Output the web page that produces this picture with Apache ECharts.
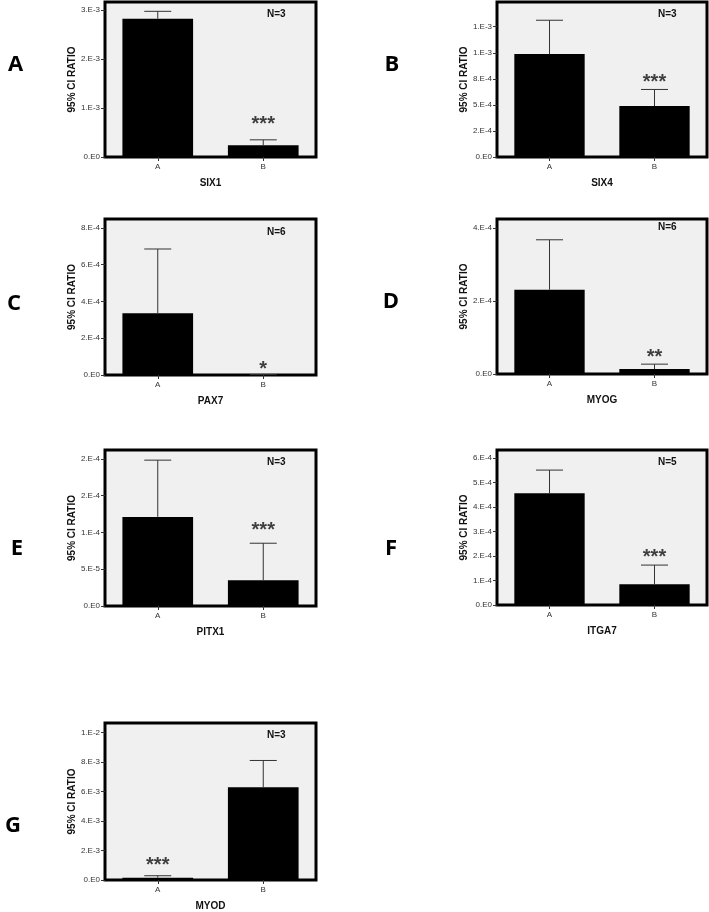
<!DOCTYPE html>
<html><head><meta charset="utf-8">
<script src="https://cdn.jsdelivr.net/npm/echarts@6/dist/echarts.min.js"></script>
<style>html,body{margin:0;padding:0;background:#fff}#c{width:709px;height:912px}</style>
</head><body><div id="c"></div>
<script>
// ---------- DATA ----------
const categories = ['A', 'B'];
const genes = ['SIX1', 'SIX4', 'PAX7', 'MYOG', 'PITX1', 'ITGA7', 'MYOD'];
const panelLetters = ['A', 'B', 'C', 'D', 'E', 'F', 'G'];
const nLabels = ['N=3', 'N=3', 'N=6', 'N=6', 'N=3', 'N=5', 'N=3'];

const meanSIX1 = [2.82e-3, 0.24e-3];   const upperSIX1 = [2.97e-3, 0.35e-3];
const meanSIX4 = [9.87e-4, 4.89e-4];   const upperSIX4 = [1.312e-3, 6.48e-4];
const meanPAX7 = [3.35e-4, 2e-6];      const upperPAX7 = [6.85e-4, 2e-6];
const meanMYOG = [2.31e-4, 1.37e-5];   const upperMYOG = [3.68e-4, 2.7e-5];
const meanPITX1 = [1.211e-4, 3.5e-5];  const upperPITX1 = [1.982e-4, 8.53e-5];
const meanITGA7 = [4.56e-4, 0.845e-4]; const upperITGA7 = [5.51e-4, 1.63e-4];
const meanMYOD = [1.6e-4, 6.29e-3];    const upperMYOD = [2.9e-4, 8.1e-3];

const sigCategory = ['B', 'B', 'B', 'B', 'B', 'B', 'A'];
const sigText = ['***', '***', '*', '**', '***', '***', '***'];

const tickValsSIX1 = [0, 1e-3, 2e-3, 3e-3];
const tickLblsSIX1 = ['0.E0', '1.E-3', '2.E-3', '3.E-3'];
const tickValsSIX4 = [0, 2.5e-4, 5e-4, 7.5e-4, 1e-3, 1.25e-3];
const tickLblsSIX4 = ['0.E0', '2.E-4', '5.E-4', '8.E-4', '1.E-3', '1.E-3'];
const tickValsPAX7 = [0, 2e-4, 4e-4, 6e-4, 8e-4];
const tickLblsPAX7 = ['0.E0', '2.E-4', '4.E-4', '6.E-4', '8.E-4'];
const tickValsMYOG = [0, 2e-4, 4e-4];
const tickLblsMYOG = ['0.E0', '2.E-4', '4.E-4'];
const tickValsPITX1 = [0, 5e-5, 1e-4, 1.5e-4, 2e-4];
const tickLblsPITX1 = ['0.E0', '5.E-5', '1.E-4', '2.E-4', '2.E-4'];
const tickValsITGA7 = [0, 1e-4, 2e-4, 3e-4, 4e-4, 5e-4, 6e-4];
const tickLblsITGA7 = ['0.E0', '1.E-4', '2.E-4', '3.E-4', '4.E-4', '5.E-4', '6.E-4'];
const tickValsMYOD = [0, 2e-3, 4e-3, 6e-3, 8e-3, 1e-2];
const tickLblsMYOD = ['0.E0', '2.E-3', '4.E-3', '6.E-3', '8.E-3', '1.E-2'];

const axisMax = [3.16e-3, 1.487e-3, 8.48e-4, 4.25e-4, 2.12e-4, 6.33e-4, 1.064e-2];

// ---------- LAYOUT ----------
const panels = [
  {mean: meanSIX1, upper: upperSIX1, tv: tickValsSIX1, tl: tickLblsSIX1},
  {mean: meanSIX4, upper: upperSIX4, tv: tickValsSIX4, tl: tickLblsSIX4},
  {mean: meanPAX7, upper: upperPAX7, tv: tickValsPAX7, tl: tickLblsPAX7},
  {mean: meanMYOG, upper: upperMYOG, tv: tickValsMYOG, tl: tickLblsMYOG},
  {mean: meanPITX1, upper: upperPITX1, tv: tickValsPITX1, tl: tickLblsPITX1},
  {mean: meanITGA7, upper: upperITGA7, tv: tickValsITGA7, tl: tickLblsITGA7},
  {mean: meanMYOD, upper: upperMYOD, tv: tickValsMYOD, tl: tickLblsMYOD}
];
const gridPos = [
  {left: 105, top: 2, width: 211, height: 155},
  {left: 497, top: 2, width: 210, height: 155},
  {left: 105, top: 219, width: 211, height: 156},
  {left: 497, top: 219, width: 210, height: 155},
  {left: 105, top: 450, width: 211, height: 156},
  {left: 497, top: 450, width: 210, height: 155},
  {left: 105, top: 723, width: 211, height: 157}
];
const starGap = [5, -3, -5, -3, 3, -2, 0];
const letterPos = [[15.5, 65], [392, 65], [14, 304], [391, 302], [17, 549], [391, 549], [13, 826]];
const nOffsetY = [13, 13, 14, 9, 13, 13, 13];

const FONT = '"Liberation Sans", Arial, sans-serif';
const grid = [], xAxis = [], yAxis = [], series = [], graphic = [];

panels.forEach((p, i) => {
  const g = gridPos[i];
  grid.push(Object.assign({show: true, backgroundColor: '#f0f0f0', borderColor: '#000', borderWidth: 3, containLabel: false}, g));
  xAxis.push({
    type: 'category', gridIndex: i, data: categories,
    name: genes[i], nameLocation: 'middle', nameGap: 21,
    nameTextStyle: {fontFamily: FONT, fontWeight: 'bold', fontSize: 10, color: '#111'},
    axisLine: {show: false},
    axisTick: {show: true, alignWithLabel: true, length: 4, lineStyle: {color: '#333'}},
    axisLabel: {fontFamily: FONT, fontSize: 8, color: '#333', margin: 6},
    splitLine: {show: false}
  });
  const tl = p.tl, tv = p.tv;
  yAxis.push({
    type: 'value', gridIndex: i, min: 0, max: axisMax[i],
    name: '95% CI RATIO', nameLocation: 'middle', nameGap: 28, nameRotate: 90,
    nameTextStyle: {fontFamily: FONT, fontWeight: 'bold', fontSize: 10, color: '#111'},
    axisLine: {show: false},
    axisTick: {show: true, length: 4, customValues: tv, lineStyle: {color: '#333'}},
    axisLabel: {
      fontFamily: FONT, fontSize: 8, color: '#333', margin: 5, customValues: tv,
      formatter: (v) => { let k = 0, best = Infinity; tv.forEach((t, j) => { const d = Math.abs(t - v); if (d < best) { best = d; k = j; } }); return tl[k]; }
    },
    splitLine: {show: false}
  });
  series.push({
    type: 'bar', xAxisIndex: i, yAxisIndex: i, data: p.mean,
    barCategoryGap: '33%', itemStyle: {color: '#000'}, silent: true, animation: false
  });
  series.push({
    type: 'custom', xAxisIndex: i, yAxisIndex: i,
    data: p.mean.map((m, j) => [j, m, p.upper[j]]),
    encode: {x: 0, y: [1, 2]}, silent: true, animation: false, z: 5,
    renderItem: (params, api) => {
      const x = api.value(0);
      const lo = api.coord([x, api.value(1)]);
      const hi = api.coord([x, api.value(2)]);
      const half = 13.5;
      const st = {stroke: '#333', lineWidth: 1};
      return {type: 'group', children: [
        {type: 'line', shape: {x1: lo[0], y1: lo[1], x2: hi[0], y2: hi[1]}, style: st},
        {type: 'line', shape: {x1: hi[0] - half, y1: hi[1], x2: hi[0] + half, y2: hi[1]}, style: st}
      ]};
    }
  });
  const si = categories.indexOf(sigCategory[i]);
  series.push({
    type: 'scatter', xAxisIndex: i, yAxisIndex: i, symbolSize: 0, silent: true, animation: false, z: 6,
    data: [[si, p.upper[si]]],
    label: {show: true, position: 'top', distance: starGap[i], formatter: sigText[i],
      fontFamily: FONT, fontWeight: 'bold', fontSize: 20, color: '#111'}
  });
  graphic.push({type: 'text', left: g.left + g.width - 39 - 10, top: g.top + nOffsetY[i] - 6,
    style: {text: nLabels[i], font: 'bold 10px ' + FONT, fill: '#111'}});
  graphic.push({type: 'text', x: letterPos[i][0], y: letterPos[i][1],
    style: {text: panelLetters[i], font: 'bold 22px "Open Sans", Lato, sans-serif', fill: '#000', align: 'center', verticalAlign: 'middle'}});
});

const chart = echarts.init(document.getElementById('c'), null, {renderer: 'canvas'});
chart.setOption({animation: false, grid, xAxis, yAxis, series, graphic});
</script></body></html>
